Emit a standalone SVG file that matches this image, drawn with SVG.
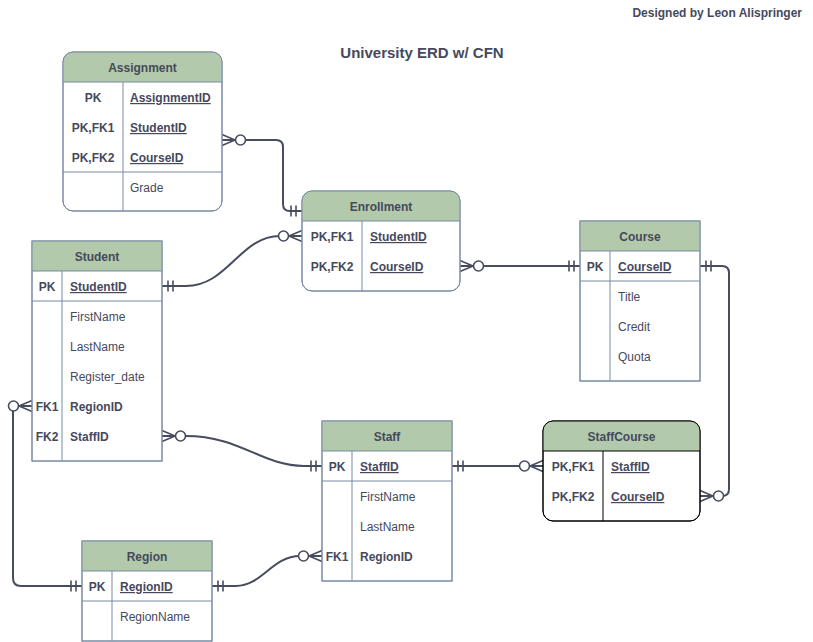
<svg xmlns="http://www.w3.org/2000/svg" width="813" height="642" viewBox="0 0 813 642">
<style>
.ent{fill:#fff;stroke:#788AA3;stroke-width:1}
.entd{fill:#fff;stroke:#000;stroke-width:1}
.hdr{fill:#B2C9AB;stroke:none}
.ln{stroke:#788AA3;stroke-width:1;fill:none}
.lnd{stroke:#000;stroke-width:1;fill:none}
.out{fill:none;stroke:#788AA3;stroke-width:1}
.outd{fill:none;stroke:#000;stroke-width:1}
text{font-family:"Liberation Sans",Arial,Helvetica,sans-serif;font-size:12px;fill:#46495D}
.h{font-weight:bold;text-anchor:middle}
.k{font-weight:bold;text-anchor:middle}
.b{font-weight:bold}
.u{font-weight:bold;text-decoration:underline}
.conn{fill:none;stroke:#474C5E;stroke-width:2}
.mk{fill:none;stroke:#474C5E;stroke-width:1.6}
.mkc{fill:#fff;stroke:#474C5E;stroke-width:1.6}
</style>
<defs>
<g id="mandOne">
<line class="mk" x1="6" y1="-5.5" x2="6" y2="5.5"/>
<line class="mk" x1="11" y1="-5.5" x2="11" y2="5.5"/>
</g>
<g id="zeroMany">
<path class="mk" d="M0,-5.5 L13,0 L0,5.5 M0,0 L13,0"/>
<circle class="mkc" cx="18.5" cy="0" r="5"/>
</g>
</defs>
<rect width="813" height="642" fill="#fff"/>
<text x="802" y="17" style="font-size:12px;font-weight:bold;text-anchor:end">Designed by Leon Alispringer</text>
<text x="422" y="58" style="font-size:15px;font-weight:bold;text-anchor:middle">University ERD w/ CFN</text>

<g id="connectors">
<path class="conn" d="M222,140 L276,140 Q283,140 283,147 L283,204 Q283,211 290,211 L302,211"/>
<path class="conn" d="M162,286 L186,286 C228,286 240,236 280,236 L302,236"/>
<path class="conn" d="M460,266 L580,266"/>
<path class="conn" d="M700,266 L722,266 Q729,266 729,273 L729,489 Q729,496 722,496 L700,496"/>
<path class="conn" d="M162,436 L186,436 C240,436 262,466 304,466 L322,466"/>
<path class="conn" d="M452,466 L543,466"/>
<path class="conn" d="M32,406 L13,406 L13,578 Q13,586 21,586 L82,586"/>
<path class="conn" d="M212,586 L236,586 C262,586 272,556 300,556 L322,556"/>
<use href="#zeroMany" transform="translate(222,140)"/>
<use href="#mandOne" transform="translate(302,211) scale(-1,1)"/>
<use href="#mandOne" transform="translate(162,286)"/>
<use href="#zeroMany" transform="translate(302,236) scale(-1,1)"/>
<use href="#zeroMany" transform="translate(460,266)"/>
<use href="#mandOne" transform="translate(580,266) scale(-1,1)"/>
<use href="#mandOne" transform="translate(700,266)"/>
<use href="#zeroMany" transform="translate(700,496)"/>
<use href="#zeroMany" transform="translate(162,436)"/>
<use href="#mandOne" transform="translate(322,466) scale(-1,1)"/>
<use href="#mandOne" transform="translate(452,466)"/>
<use href="#zeroMany" transform="translate(543,466) scale(-1,1)"/>
<use href="#zeroMany" transform="translate(32,406) scale(-1,1)"/>
<use href="#mandOne" transform="translate(82,586) scale(-1,1)"/>
<use href="#mandOne" transform="translate(212,586)"/>
<use href="#zeroMany" transform="translate(322,556) scale(-1,1)"/>
</g>

<g id="assignment">
<rect class="ent" x="63" y="52" width="159" height="159" rx="10"/>
<path class="hdr" d="M63,82 L63,62 Q63,52 73,52 L212,52 Q222,52 222,62 L222,82 Z"/>
<line class="ln" x1="63" y1="82" x2="222" y2="82"/>
<line class="ln" x1="123" y1="82" x2="123" y2="211"/>
<line class="ln" x1="63" y1="172" x2="222" y2="172"/>
<rect class="out" x="63" y="52" width="159" height="159" rx="10"/>
<text class="h" x="142.5" y="72">Assignment</text>
<text class="k" x="93" y="102">PK</text>
<text class="u" x="130" y="102">AssignmentID</text>
<text class="k" x="93" y="132">PK,FK1</text>
<text class="u" x="130" y="132">StudentID</text>
<text class="k" x="93" y="162">PK,FK2</text>
<text class="u" x="130" y="162">CourseID</text>
<text x="130" y="192">Grade</text>
</g>

<g id="enrollment">
<rect class="ent" x="302" y="191" width="158" height="100" rx="10"/>
<path class="hdr" d="M302,221 L302,201 Q302,191 312,191 L450,191 Q460,191 460,201 L460,221 Z"/>
<line class="ln" x1="302" y1="221" x2="460" y2="221"/>
<line class="ln" x1="362" y1="221" x2="362" y2="291"/>
<rect class="out" x="302" y="191" width="158" height="100" rx="10"/>
<text class="h" x="381" y="211">Enrollment</text>
<text class="k" x="332" y="241">PK,FK1</text>
<text class="u" x="370" y="241">StudentID</text>
<text class="k" x="332" y="271">PK,FK2</text>
<text class="u" x="370" y="271">CourseID</text>
</g>

<g id="student">
<rect class="ent" x="32" y="241" width="130" height="220"/>
<rect class="hdr" x="32" y="241" width="130" height="30"/>
<line class="ln" x1="32" y1="271" x2="162" y2="271"/>
<line class="ln" x1="32" y1="301" x2="162" y2="301"/>
<line class="ln" x1="62" y1="271" x2="62" y2="461"/>
<rect class="out" x="32" y="241" width="130" height="220"/>
<text class="h" x="97" y="261">Student</text>
<text class="k" x="47" y="291">PK</text>
<text class="u" x="70" y="291">StudentID</text>
<text x="70" y="321">FirstName</text>
<text x="70" y="351">LastName</text>
<text x="70" y="381">Register_date</text>
<text class="k" x="47" y="411">FK1</text>
<text class="b" x="70" y="411">RegionID</text>
<text class="k" x="47" y="441">FK2</text>
<text class="b" x="70" y="441">StaffID</text>
</g>

<g id="course">
<rect class="ent" x="580" y="221" width="120" height="160"/>
<rect class="hdr" x="580" y="221" width="120" height="30"/>
<line class="ln" x1="580" y1="251" x2="700" y2="251"/>
<line class="ln" x1="580" y1="281" x2="700" y2="281"/>
<line class="ln" x1="610" y1="251" x2="610" y2="381"/>
<rect class="out" x="580" y="221" width="120" height="160"/>
<text class="h" x="640" y="241">Course</text>
<text class="k" x="595" y="271">PK</text>
<text class="u" x="618" y="271">CourseID</text>
<text x="618" y="301">Title</text>
<text x="618" y="331">Credit</text>
<text x="618" y="361">Quota</text>
</g>

<g id="staff">
<rect class="ent" x="322" y="421" width="130" height="160"/>
<rect class="hdr" x="322" y="421" width="130" height="30"/>
<line class="ln" x1="322" y1="451" x2="452" y2="451"/>
<line class="ln" x1="322" y1="481" x2="452" y2="481"/>
<line class="ln" x1="352" y1="451" x2="352" y2="581"/>
<rect class="out" x="322" y="421" width="130" height="160"/>
<text class="h" x="387" y="441">Staff</text>
<text class="k" x="337" y="471">PK</text>
<text class="u" x="360" y="471">StaffID</text>
<text x="360" y="501">FirstName</text>
<text x="360" y="531">LastName</text>
<text class="k" x="337" y="561">FK1</text>
<text class="b" x="360" y="561">RegionID</text>
</g>

<g id="staffcourse">
<rect class="entd" x="543" y="421" width="157" height="100" rx="10"/>
<path class="hdr" d="M543,451 L543,431 Q543,421 553,421 L690,421 Q700,421 700,431 L700,451 Z"/>
<line class="lnd" x1="543" y1="451" x2="700" y2="451"/>
<line class="lnd" x1="603" y1="451" x2="603" y2="521"/>
<rect class="outd" x="543" y="421" width="157" height="100" rx="10"/>
<text class="h" x="621.5" y="441">StaffCourse</text>
<text class="k" x="573" y="471">PK,FK1</text>
<text class="u" x="611" y="471">StaffID</text>
<text class="k" x="573" y="501">PK,FK2</text>
<text class="u" x="611" y="501">CourseID</text>
</g>

<g id="region">
<rect class="ent" x="82" y="541" width="130" height="100"/>
<rect class="hdr" x="82" y="541" width="130" height="30"/>
<line class="ln" x1="82" y1="571" x2="212" y2="571"/>
<line class="ln" x1="82" y1="601" x2="212" y2="601"/>
<line class="ln" x1="112" y1="571" x2="112" y2="641"/>
<rect class="out" x="82" y="541" width="130" height="100"/>
<text class="h" x="147" y="561">Region</text>
<text class="k" x="97" y="591">PK</text>
<text class="u" x="120" y="591">RegionID</text>
<text x="120" y="621">RegionName</text>
</g>
</svg>
